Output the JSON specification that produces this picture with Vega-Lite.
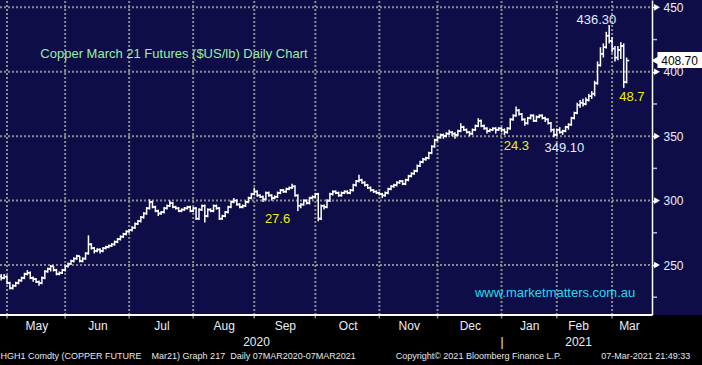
{
  "$schema": "https://vega.github.io/schema/vega-lite/v6.json",
  "width": 702,
  "height": 315,
  "autosize": {"type": "none"},
  "padding": {"left": 0, "top": 0, "right": 0, "bottom": 50},
  "background": "#000000",
  "config": {
    "view": {"fill": "#0f0d48", "stroke": null},
    "font": "Liberation Sans",
    "axis": {"labelOverlap": false, "labelFlush": false, "labelBound": false, "title": null}
  },
  "title": {
    "text": "HGH1 Comdty (COPPER FUTURE\u00a0\u00a0\u00a0\u00a0Mar21) Graph 217 \u00a0Daily 07MAR2020-07MAR2021\u00a0\u00a0\u00a0\u00a0\u00a0\u00a0\u00a0\u00a0\u00a0\u00a0\u00a0\u00a0\u00a0\u00a0\u00a0\u00a0Copyright\u00a9 2021 Bloomberg Finance L.P.\u00a0\u00a0\u00a0\u00a0\u00a0\u00a0\u00a0\u00a0\u00a0\u00a0\u00a0\u00a0\u00a0\u00a0\u00a0\u00a007-Mar-2021 21:49:33",
    "orient": "bottom", "anchor": "start", "fontSize": 9, "fontWeight": "normal",
    "color": "#e6e6e6", "font": "Liberation Sans", "offset": 4, "dx": 2
  },
  "datasets": {
    "grid": [{"v": 250}, {"v": 300}, {"v": 350}, {"v": 400}, {"v": 450}],
    "minor": [{"v": 225}, {"v": 275}, {"v": 325}, {"v": 375}, {"v": 425}],
    "months": [{"m": 0}, {"m": 20}, {"m": 42}, {"m": 64}, {"m": 85}, {"m": 106}, {"m": 128}, {"m": 148}, {"m": 170}, {"m": 189}, {"m": 208}],
    "notes": [
      {"x": 57.4, "y": 414.1, "t": "Copper March 21 Futures ($US/lb) Daily Chart", "k": "title"},
      {"x": 202.6, "y": 440.5, "t": "436.30", "k": "value"},
      {"x": 191.6, "y": 341.2, "t": "349.10", "k": "value"},
      {"x": 175.1, "y": 342.6, "t": "24.3", "k": "stat"},
      {"x": 93.0, "y": 285.7, "t": "27.6", "k": "stat"},
      {"x": 214.8, "y": 380.4, "t": "48.7", "k": "stat"},
      {"x": 188.4, "y": 228.3, "t": "www.marketmatters.com.au", "k": "url"}
    ],
    "last": [{"p": 408.7, "t": "408.70"}],
    "bars": [
      {"d":-2,"o":241,"h":243,"l":238,"c":240},{"d":-1,"o":240,"h":243,"l":239,"c":241},
      {"d":0,"o":241,"h":242,"l":235,"c":236},{"d":1,"o":236,"h":237,"l":231,"c":232},
      {"d":2,"o":232,"h":235,"l":231,"c":234},{"d":3,"o":234,"h":237,"l":233,"c":236},
      {"d":4,"o":236,"h":239,"l":235,"c":238},{"d":5,"o":238,"h":241,"l":237,"c":240},
      {"d":6,"o":240,"h":244,"l":239,"c":243},{"d":7,"o":243,"h":246,"l":242,"c":244},
      {"d":8,"o":244,"h":245,"l":239,"c":240},{"d":9,"o":240,"h":241,"l":237,"c":239},
      {"d":10,"o":239,"h":240,"l":236,"c":237},{"d":11,"o":237,"h":238,"l":234,"c":236},
      {"d":12,"o":236,"h":241,"l":235,"c":240},{"d":13,"o":240,"h":246,"l":239,"c":245},
      {"d":14,"o":245,"h":248,"l":244,"c":247},{"d":15,"o":247,"h":250,"l":245,"c":249},
      {"d":16,"o":249,"h":249,"l":245,"c":246},{"d":17,"o":246,"h":247,"l":242,"c":243},
      {"d":18,"o":243,"h":245,"l":242,"c":244},{"d":19,"o":244,"h":247,"l":243,"c":246},
      {"d":20,"o":246,"h":250,"l":245,"c":249},{"d":21,"o":249,"h":252,"l":248,"c":251},
      {"d":22,"o":251,"h":254,"l":250,"c":253},{"d":23,"o":253,"h":256,"l":252,"c":255},
      {"d":24,"o":255,"h":258,"l":254,"c":257},{"d":25,"o":257,"h":257,"l":252,"c":253},
      {"d":26,"o":253,"h":256,"l":252,"c":255},{"d":27,"o":255,"h":260,"l":254,"c":259},
      {"d":28,"o":259,"h":273,"l":258,"c":266},{"d":29,"o":266,"h":267,"l":262,"c":263},
      {"d":30,"o":263,"h":264,"l":259,"c":261},{"d":31,"o":261,"h":263,"l":260,"c":262},
      {"d":32,"o":262,"h":263,"l":259,"c":261},{"d":33,"o":261,"h":264,"l":260,"c":263},
      {"d":34,"o":263,"h":265,"l":262,"c":264},{"d":35,"o":264,"h":266,"l":263,"c":265},
      {"d":36,"o":265,"h":267,"l":264,"c":266},{"d":37,"o":266,"h":269,"l":265,"c":268},
      {"d":38,"o":268,"h":271,"l":267,"c":270},{"d":39,"o":270,"h":273,"l":269,"c":272},
      {"d":40,"o":272,"h":275,"l":271,"c":274},{"d":41,"o":274,"h":277,"l":273,"c":276},
      {"d":42,"o":276,"h":278,"l":275,"c":277},{"d":43,"o":277,"h":280,"l":276,"c":279},
      {"d":44,"o":279,"h":283,"l":278,"c":282},{"d":45,"o":282,"h":285,"l":281,"c":284},
      {"d":46,"o":284,"h":288,"l":283,"c":287},{"d":47,"o":287,"h":291,"l":286,"c":290},
      {"d":48,"o":290,"h":295,"l":289,"c":294},{"d":49,"o":294,"h":301,"l":293,"c":299},
      {"d":50,"o":299,"h":300,"l":294,"c":295},{"d":51,"o":295,"h":296,"l":291,"c":292},
      {"d":52,"o":292,"h":293,"l":288,"c":290},{"d":53,"o":290,"h":292,"l":289,"c":291},
      {"d":54,"o":291,"h":295,"l":290,"c":294},{"d":55,"o":294,"h":297,"l":293,"c":296},
      {"d":56,"o":296,"h":300,"l":295,"c":298},{"d":57,"o":298,"h":299,"l":294,"c":295},
      {"d":58,"o":295,"h":296,"l":293,"c":294},{"d":59,"o":294,"h":295,"l":291,"c":292},
      {"d":60,"o":292,"h":294,"l":291,"c":293},{"d":61,"o":293,"h":295,"l":292,"c":294},
      {"d":62,"o":294,"h":296,"l":293,"c":295},{"d":63,"o":295,"h":296,"l":291,"c":292},
      {"d":64,"o":292,"h":295,"l":291,"c":294},{"d":65,"o":294,"h":295,"l":285,"c":286},
      {"d":66,"o":286,"h":294,"l":285,"c":293},{"d":67,"o":293,"h":297,"l":292,"c":296},
      {"d":68,"o":296,"h":297,"l":283,"c":288},{"d":69,"o":288,"h":294,"l":287,"c":293},
      {"d":70,"o":293,"h":294,"l":291,"c":292},{"d":71,"o":292,"h":297,"l":291,"c":296},
      {"d":72,"o":296,"h":297,"l":293,"c":294},{"d":73,"o":294,"h":295,"l":285,"c":286},
      {"d":74,"o":286,"h":289,"l":285,"c":288},{"d":75,"o":288,"h":292,"l":287,"c":291},
      {"d":76,"o":291,"h":296,"l":290,"c":295},{"d":77,"o":295,"h":300,"l":294,"c":299},
      {"d":78,"o":299,"h":302,"l":298,"c":300},{"d":79,"o":300,"h":301,"l":296,"c":297},
      {"d":80,"o":297,"h":298,"l":294,"c":295},{"d":81,"o":295,"h":297,"l":294,"c":296},
      {"d":82,"o":296,"h":300,"l":295,"c":299},{"d":83,"o":299,"h":303,"l":298,"c":302},
      {"d":84,"o":302,"h":306,"l":301,"c":305},{"d":85,"o":305,"h":310,"l":304,"c":307},
      {"d":86,"o":307,"h":308,"l":303,"c":304},{"d":87,"o":304,"h":305,"l":302,"c":303},
      {"d":88,"o":303,"h":304,"l":299,"c":301},{"d":89,"o":301,"h":307,"l":300,"c":306},
      {"d":90,"o":306,"h":307,"l":303,"c":304},{"d":91,"o":304,"h":305,"l":300,"c":302},
      {"d":92,"o":302,"h":304,"l":301,"c":303},{"d":93,"o":303,"h":307,"l":302,"c":306},
      {"d":94,"o":306,"h":309,"l":305,"c":308},{"d":95,"o":308,"h":309,"l":306,"c":307},
      {"d":96,"o":307,"h":310,"l":306,"c":309},{"d":97,"o":309,"h":311,"l":308,"c":310},
      {"d":98,"o":310,"h":313,"l":309,"c":311},{"d":99,"o":311,"h":312,"l":303,"c":304},
      {"d":100,"o":304,"h":305,"l":292,"c":296},{"d":101,"o":296,"h":298,"l":294,"c":297},
      {"d":102,"o":297,"h":301,"l":296,"c":300},{"d":103,"o":300,"h":301,"l":297,"c":298},
      {"d":104,"o":298,"h":303,"l":297,"c":302},{"d":105,"o":302,"h":304,"l":301,"c":303},
      {"d":106,"o":303,"h":306,"l":302,"c":305},{"d":107,"o":305,"h":306,"l":284,"c":286},
      {"d":108,"o":286,"h":297,"l":285,"c":296},{"d":109,"o":296,"h":297,"l":293,"c":295},
      {"d":110,"o":295,"h":301,"l":294,"c":300},{"d":111,"o":300,"h":306,"l":299,"c":305},
      {"d":112,"o":305,"h":308,"l":304,"c":307},{"d":113,"o":307,"h":308,"l":305,"c":306},
      {"d":114,"o":306,"h":307,"l":303,"c":304},{"d":115,"o":304,"h":307,"l":303,"c":306},
      {"d":116,"o":306,"h":308,"l":305,"c":307},{"d":117,"o":307,"h":308,"l":305,"c":306},
      {"d":118,"o":306,"h":309,"l":305,"c":308},{"d":119,"o":308,"h":313,"l":307,"c":312},
      {"d":120,"o":312,"h":316,"l":311,"c":315},{"d":121,"o":315,"h":320,"l":314,"c":316},
      {"d":122,"o":316,"h":317,"l":313,"c":314},{"d":123,"o":314,"h":315,"l":311,"c":312},
      {"d":124,"o":312,"h":313,"l":309,"c":310},{"d":125,"o":310,"h":311,"l":307,"c":308},
      {"d":126,"o":308,"h":309,"l":306,"c":307},{"d":127,"o":307,"h":308,"l":305,"c":306},
      {"d":128,"o":306,"h":307,"l":304,"c":305},{"d":129,"o":305,"h":306,"l":302,"c":304},
      {"d":130,"o":304,"h":307,"l":303,"c":306},{"d":131,"o":306,"h":310,"l":305,"c":309},
      {"d":132,"o":309,"h":312,"l":308,"c":311},{"d":133,"o":311,"h":313,"l":310,"c":312},
      {"d":134,"o":312,"h":315,"l":311,"c":314},{"d":135,"o":314,"h":316,"l":313,"c":315},
      {"d":136,"o":315,"h":316,"l":312,"c":313},{"d":137,"o":313,"h":317,"l":312,"c":316},
      {"d":138,"o":316,"h":320,"l":315,"c":319},{"d":139,"o":319,"h":322,"l":318,"c":321},
      {"d":140,"o":321,"h":324,"l":320,"c":323},{"d":141,"o":323,"h":328,"l":322,"c":327},
      {"d":142,"o":327,"h":331,"l":326,"c":330},{"d":143,"o":330,"h":333,"l":329,"c":332},
      {"d":144,"o":332,"h":334,"l":331,"c":333},{"d":145,"o":333,"h":338,"l":332,"c":337},
      {"d":146,"o":337,"h":343,"l":336,"c":342},{"d":147,"o":342,"h":348,"l":341,"c":347},
      {"d":148,"o":347,"h":350,"l":346,"c":349},{"d":149,"o":349,"h":352,"l":348,"c":351},
      {"d":150,"o":351,"h":352,"l":348,"c":350},{"d":151,"o":350,"h":353,"l":349,"c":352},
      {"d":152,"o":352,"h":355,"l":351,"c":353},{"d":153,"o":353,"h":354,"l":350,"c":352},
      {"d":154,"o":352,"h":353,"l":348,"c":351},{"d":155,"o":351,"h":355,"l":350,"c":354},
      {"d":156,"o":354,"h":360,"l":353,"c":357},{"d":157,"o":357,"h":358,"l":354,"c":355},
      {"d":158,"o":355,"h":356,"l":352,"c":353},{"d":159,"o":353,"h":354,"l":350,"c":352},
      {"d":160,"o":352,"h":356,"l":351,"c":355},{"d":161,"o":355,"h":359,"l":354,"c":358},
      {"d":162,"o":358,"h":364,"l":357,"c":362},{"d":163,"o":362,"h":363,"l":357,"c":358},
      {"d":164,"o":358,"h":359,"l":355,"c":356},{"d":165,"o":356,"h":357,"l":352,"c":354},
      {"d":166,"o":354,"h":356,"l":353,"c":355},{"d":167,"o":355,"h":357,"l":354,"c":356},
      {"d":168,"o":356,"h":357,"l":352,"c":355},{"d":169,"o":355,"h":357,"l":354,"c":356},
      {"d":170,"o":356,"h":357,"l":353,"c":355},{"d":171,"o":355,"h":356,"l":351,"c":353},
      {"d":172,"o":353,"h":357,"l":352,"c":356},{"d":173,"o":356,"h":364,"l":355,"c":363},
      {"d":174,"o":363,"h":367,"l":362,"c":366},{"d":175,"o":366,"h":373,"l":365,"c":370},
      {"d":176,"o":370,"h":371,"l":366,"c":367},{"d":177,"o":367,"h":368,"l":362,"c":363},
      {"d":178,"o":363,"h":364,"l":358,"c":360},{"d":179,"o":360,"h":365,"l":359,"c":364},
      {"d":180,"o":364,"h":367,"l":363,"c":366},{"d":181,"o":366,"h":367,"l":361,"c":362},
      {"d":182,"o":362,"h":366,"l":361,"c":365},{"d":183,"o":365,"h":367,"l":364,"c":366},
      {"d":184,"o":366,"h":367,"l":363,"c":364},{"d":185,"o":364,"h":365,"l":361,"c":363},
      {"d":186,"o":363,"h":364,"l":359,"c":360},{"d":187,"o":360,"h":361,"l":353,"c":355},
      {"d":188,"o":355,"h":356,"l":349.1,"c":351},{"d":189,"o":351,"h":356,"l":350,"c":355},
      {"d":190,"o":355,"h":357,"l":352,"c":353},{"d":191,"o":353,"h":355,"l":351,"c":354},
      {"d":192,"o":354,"h":358,"l":353,"c":357},{"d":193,"o":357,"h":360,"l":355,"c":359},
      {"d":194,"o":359,"h":365,"l":358,"c":364},{"d":195,"o":364,"h":369,"l":363,"c":368},
      {"d":196,"o":368,"h":376,"l":367,"c":374},{"d":197,"o":374,"h":378,"l":372,"c":376},
      {"d":198,"o":376,"h":379,"l":373,"c":375},{"d":199,"o":375,"h":380,"l":374,"c":378},
      {"d":200,"o":378,"h":383,"l":377,"c":381},{"d":201,"o":381,"h":385,"l":379,"c":383},
      {"d":202,"o":383,"h":393,"l":381,"c":391},{"d":203,"o":391,"h":408,"l":390,"c":405},
      {"d":204,"o":405,"h":419,"l":404,"c":414},{"d":205,"o":414,"h":422,"l":411,"c":419},
      {"d":206,"o":419,"h":431,"l":418,"c":428},{"d":207,"o":428,"h":436.3,"l":422,"c":424},
      {"d":208,"o":424,"h":427,"l":415,"c":418},{"d":209,"o":418,"h":420,"l":408,"c":411},
      {"d":210,"o":411,"h":420,"l":409,"c":417},{"d":211,"o":417,"h":423,"l":410,"c":420},
      {"d":212,"o":420,"h":422,"l":387.5,"c":392},{"d":213,"o":392,"h":411,"l":391,"c":408.7}
    ]
  },
  "layer": [
    {
      "data": {"name": "grid"},
      "mark": {"type": "rule", "color": "#8c8c8c", "strokeWidth": 2, "strokeDash": [2, 2]},
      "encoding": {
        "y": {
          "field": "v", "type": "quantitative", "title": null,
          "scale": {"domain": [211.2, 455.7], "nice": false, "zero": false},
          "axis": {
            "orient": "right", "offset": -50,
            "values": [250, 300, 350, 400, 450],
            "domain": true, "domainColor": "#ffffff", "domainWidth": 1.5,
            "ticks": true, "tickColor": "#ffffff", "tickSize": 5, "tickWidth": 1.5,
            "grid": false,
            "labelColor": "#e8eef8", "labelFont": "Liberation Sans", "labelFontSize": 12,
            "labelPadding": 6, "labelOverlap": false, "labelFlush": false, "labelBound": false,
            "title": null
          }
        },
        "x": {
          "datum": -2.406, "type": "quantitative", "title": null,
          "scale": {"domain": [-2.406, 238.91], "nice": false, "zero": false},
          "axis": {
            "values": [10.1, 31.1, 53.1, 74.5, 85.6, 95.5, 117.1, 138.1, 159.1, 170, 179.5, 196.3, 213.8],
            "domain": false, "grid": false, "ticks": false,
            "labelExpr": "datum.value == 10.1 ? 'May' : datum.value == 31.1 ? 'Jun' : datum.value == 53.1 ? 'Jul' : datum.value == 74.5 ? 'Aug' : datum.value == 95.5 ? 'Sep' : datum.value == 117.1 ? 'Oct' : datum.value == 138.1 ? 'Nov' : datum.value == 159.1 ? 'Dec' : datum.value == 179.5 ? 'Jan' : datum.value == 196.3 ? ['Feb', '2021'] : datum.value == 213.8 ? 'Mar' : datum.value == 85.6 ? ['', '2020'] : datum.value == 170 ? ['', '|'] : ''",
            "labelColor": "#e8eef8",
            "labelFont": "Liberation Sans", "labelFontSize": 12, "labelPadding": 5.5, "labelLineHeight": 16,
            "labelOverlap": false, "labelFlush": false, "labelBound": false,
            "title": null
          }
        },
        "x2": {"datum": 221.73}
      }
    },
    {
      "data": {"name": "months"},
      "mark": {"type": "rule", "color": "#8c8c8c", "strokeWidth": 2, "strokeDash": [2, 2]},
      "encoding": {
        "x": {"field": "m", "type": "quantitative", "title": null},
        "y": {"datum": 211.2, "type": "quantitative", "title": null},
        "y2": {"datum": 455.7}
      }
    },
    {
      "data": {"name": "months"},
      "mark": {"type": "tick", "orient": "vertical", "color": "#c8c8c8", "size": 4, "thickness": 1.5, "yOffset": 1.5},
      "encoding": {
        "x": {"field": "m", "type": "quantitative", "title": null},
        "y": {"datum": 211.2, "type": "quantitative", "title": null}
      }
    },
    {
      "data": {"name": "minor"},
      "mark": {"type": "tick", "orient": "horizontal", "color": "#ffffff", "size": 5, "thickness": 1.5, "xOffset": 2.5},
      "encoding": {
        "y": {"field": "v", "type": "quantitative", "title": null},
        "x": {"datum": 221.73, "type": "quantitative", "title": null}
      }
    },
    {
      "data": {"name": "grid"},
      "mark": {"type": "point", "shape": "triangle-right", "filled": true, "color": "#ffffff", "size": 45, "opacity": 1, "xOffset": 5},
      "encoding": {
        "y": {"field": "v", "type": "quantitative", "title": null},
        "x": {"datum": 221.73, "type": "quantitative", "title": null}
      }
    },
    {
      "data": {"values": [{}]},
      "mark": {"type": "rule", "color": "#ffffff", "strokeWidth": 2},
      "encoding": {
        "y": {"datum": 211.2, "type": "quantitative", "title": null},
        "x": {"datum": -2.406, "type": "quantitative", "title": null},
        "x2": {"datum": 221.73}
      }
    },
    {
      "data": {"name": "bars"},
      "mark": {"type": "rule", "color": "#ffffff", "strokeWidth": 1.5},
      "encoding": {
        "x": {"field": "d", "type": "quantitative", "title": null},
        "y": {"field": "l", "type": "quantitative", "title": null},
        "y2": {"field": "h"}
      }
    },
    {
      "data": {"name": "bars"},
      "mark": {"type": "tick", "orient": "horizontal", "color": "#ffffff", "size": 2.6, "thickness": 1.5, "xOffset": -1.3, "opacity": 1},
      "encoding": {
        "x": {"field": "d", "type": "quantitative", "title": null},
        "y": {"field": "o", "type": "quantitative", "title": null}
      }
    },
    {
      "data": {"name": "bars"},
      "mark": {"type": "tick", "orient": "horizontal", "color": "#ffffff", "size": 2.6, "thickness": 1.5, "xOffset": 1.3, "opacity": 1},
      "encoding": {
        "x": {"field": "d", "type": "quantitative", "title": null},
        "y": {"field": "c", "type": "quantitative", "title": null}
      }
    },
    {
      "data": {"name": "notes"},
      "mark": {"type": "text", "align": "center", "baseline": "middle", "fontSize": 13, "font": "Liberation Sans"},
      "encoding": {
        "x": {"field": "x", "type": "quantitative", "title": null},
        "y": {"field": "y", "type": "quantitative", "title": null},
        "text": {"field": "t"},
        "color": {
          "field": "k", "type": "nominal", "legend": null,
          "scale": {"domain": ["title", "value", "stat", "url"], "range": ["#98f0a0", "#e0ecff", "#eef000", "#22dcee"]}
        }
      }
    },
    {
      "data": {"values": [{}]},
      "mark": {"type": "rect", "color": "#ffffff"},
      "encoding": {
        "x": {"datum": 223.6, "type": "quantitative", "title": null},
        "x2": {"datum": 238.91},
        "y": {"datum": 402.9, "type": "quantitative", "title": null},
        "y2": {"datum": 415.3}
      }
    },
    {
      "data": {"name": "last"},
      "mark": {"type": "point", "shape": "triangle-left", "filled": true, "color": "#ffffff", "size": 90, "opacity": 1, "xOffset": -2},
      "encoding": {
        "x": {"datum": 223.6, "type": "quantitative", "title": null},
        "y": {"field": "p", "type": "quantitative", "title": null}
      }
    },
    {
      "data": {"name": "last"},
      "mark": {"type": "text", "align": "center", "baseline": "middle", "fontSize": 12, "font": "Liberation Sans", "color": "#000000"},
      "encoding": {
        "x": {"datum": 231.2, "type": "quantitative", "title": null},
        "y": {"field": "p", "type": "quantitative", "title": null},
        "text": {"field": "t"}
      }
    }
  ]
}
